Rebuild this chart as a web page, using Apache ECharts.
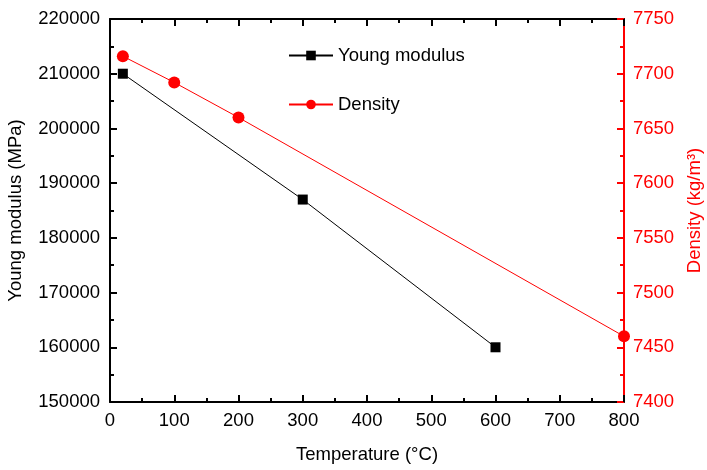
<!DOCTYPE html>
<html><head><meta charset="utf-8">
<script src="https://cdn.jsdelivr.net/npm/echarts@6/dist/echarts.min.js"></script>
<style>html,body{margin:0;padding:0;background:#fff}#c{width:707px;height:470px}</style>
</head><body><div id="c"></div>
<script>
const youngTemps = [20, 300, 600];
const youngValues = [210000, 187000, 160000];
const densityTemps = [20, 100, 200, 800];
const densityValues = [7716, 7692, 7660, 7460];

const F = '"Liberation Sans", Arial, sans-serif';
const FS = 18.5;
const plain = v => String(v);
const chart = echarts.init(document.getElementById('c'));
const pair = (xs, ys) => xs.map((x, i) => [x, ys[i]]);
chart.setOption({
  animation: false,
  grid: {left: 110, right: 83, top: 19, bottom: 68, containLabel: false, outerBoundsMode: 'none'},
  legend: {
    orient: 'vertical', left: 283, top: 41, itemGap: 30, itemWidth: 44, itemHeight: 12,
    textStyle: {fontFamily: F, fontSize: FS, color: '#000'},
    data: ['Young modulus', 'Density']
  },
  xAxis: [{
    type: 'value', min: 0, max: 800, interval: 100,
    name: 'Temperature (°C)', nameLocation: 'middle', nameGap: 43,
    nameTextStyle: {fontFamily: F, fontSize: FS, color: '#000'},
    axisLine: {onZero: false, lineStyle: {color: '#000', width: 2}},
    axisTick: {inside: true, length: 7, lineStyle: {width: 2}},
    minorTick: {show: true, splitNumber: 2, length: 4, lineStyle: {color: '#000', width: 2}},
    axisLabel: {fontFamily: F, fontSize: FS, color: '#000', margin: 9, formatter: plain},
    splitLine: {show: false}
  }, {
    type: 'value', position: 'top', min: 0, max: 800, interval: 100,
    axisLine: {onZero: false, lineStyle: {color: '#000', width: 2}},
    axisTick: {inside: true, length: 7, lineStyle: {width: 2}},
    minorTick: {show: true, splitNumber: 2, length: 4, lineStyle: {color: '#000', width: 2}},
    axisLabel: {show: false}, splitLine: {show: false}
  }],
  yAxis: [{
    type: 'value', position: 'left', min: 150000, max: 220000, interval: 10000,
    name: 'Young modulus (MPa)', nameLocation: 'middle', nameGap: 85,
    nameTextStyle: {fontFamily: F, fontSize: FS, color: '#000'},
    axisLine: {show: true, onZero: false, lineStyle: {color: '#000', width: 2}},
    axisTick: {show: true, inside: true, length: 7, lineStyle: {width: 2}},
    minorTick: {show: true, splitNumber: 2, length: 4, lineStyle: {color: '#000', width: 2}},
    axisLabel: {fontFamily: F, fontSize: FS, color: '#000', margin: 10, formatter: plain},
    splitLine: {show: false}
  }, {
    type: 'value', position: 'right', min: 7400, max: 7750, interval: 50,
    name: 'Density (kg/m³)', nameLocation: 'middle', nameGap: 59, nameRotate: 90,
    nameTextStyle: {fontFamily: F, fontSize: FS, color: '#ff0000'},
    axisLine: {show: true, onZero: false, lineStyle: {color: '#ff0000', width: 2}},
    axisTick: {show: true, inside: true, length: 7, lineStyle: {width: 2, color: '#ff0000'}},
    minorTick: {show: true, splitNumber: 2, length: 4, lineStyle: {color: '#ff0000', width: 2}},
    axisLabel: {fontFamily: F, fontSize: FS, color: '#ff0000', margin: 9, formatter: plain},
    splitLine: {show: false}
  }],
  series: [{
    name: 'Young modulus', type: 'line', xAxisIndex: 0, yAxisIndex: 0,
    data: pair(youngTemps, youngValues),
    symbol: 'rect', symbolSize: 10,
    lineStyle: {color: '#000', width: 1}, itemStyle: {color: '#000'}
  }, {
    name: 'Density', type: 'line', xAxisIndex: 0, yAxisIndex: 1,
    data: pair(densityTemps, densityValues),
    symbol: 'circle', symbolSize: 12,
    lineStyle: {color: '#ff0000', width: 1}, itemStyle: {color: '#ff0000'}
  }]
});
</script></body></html>
